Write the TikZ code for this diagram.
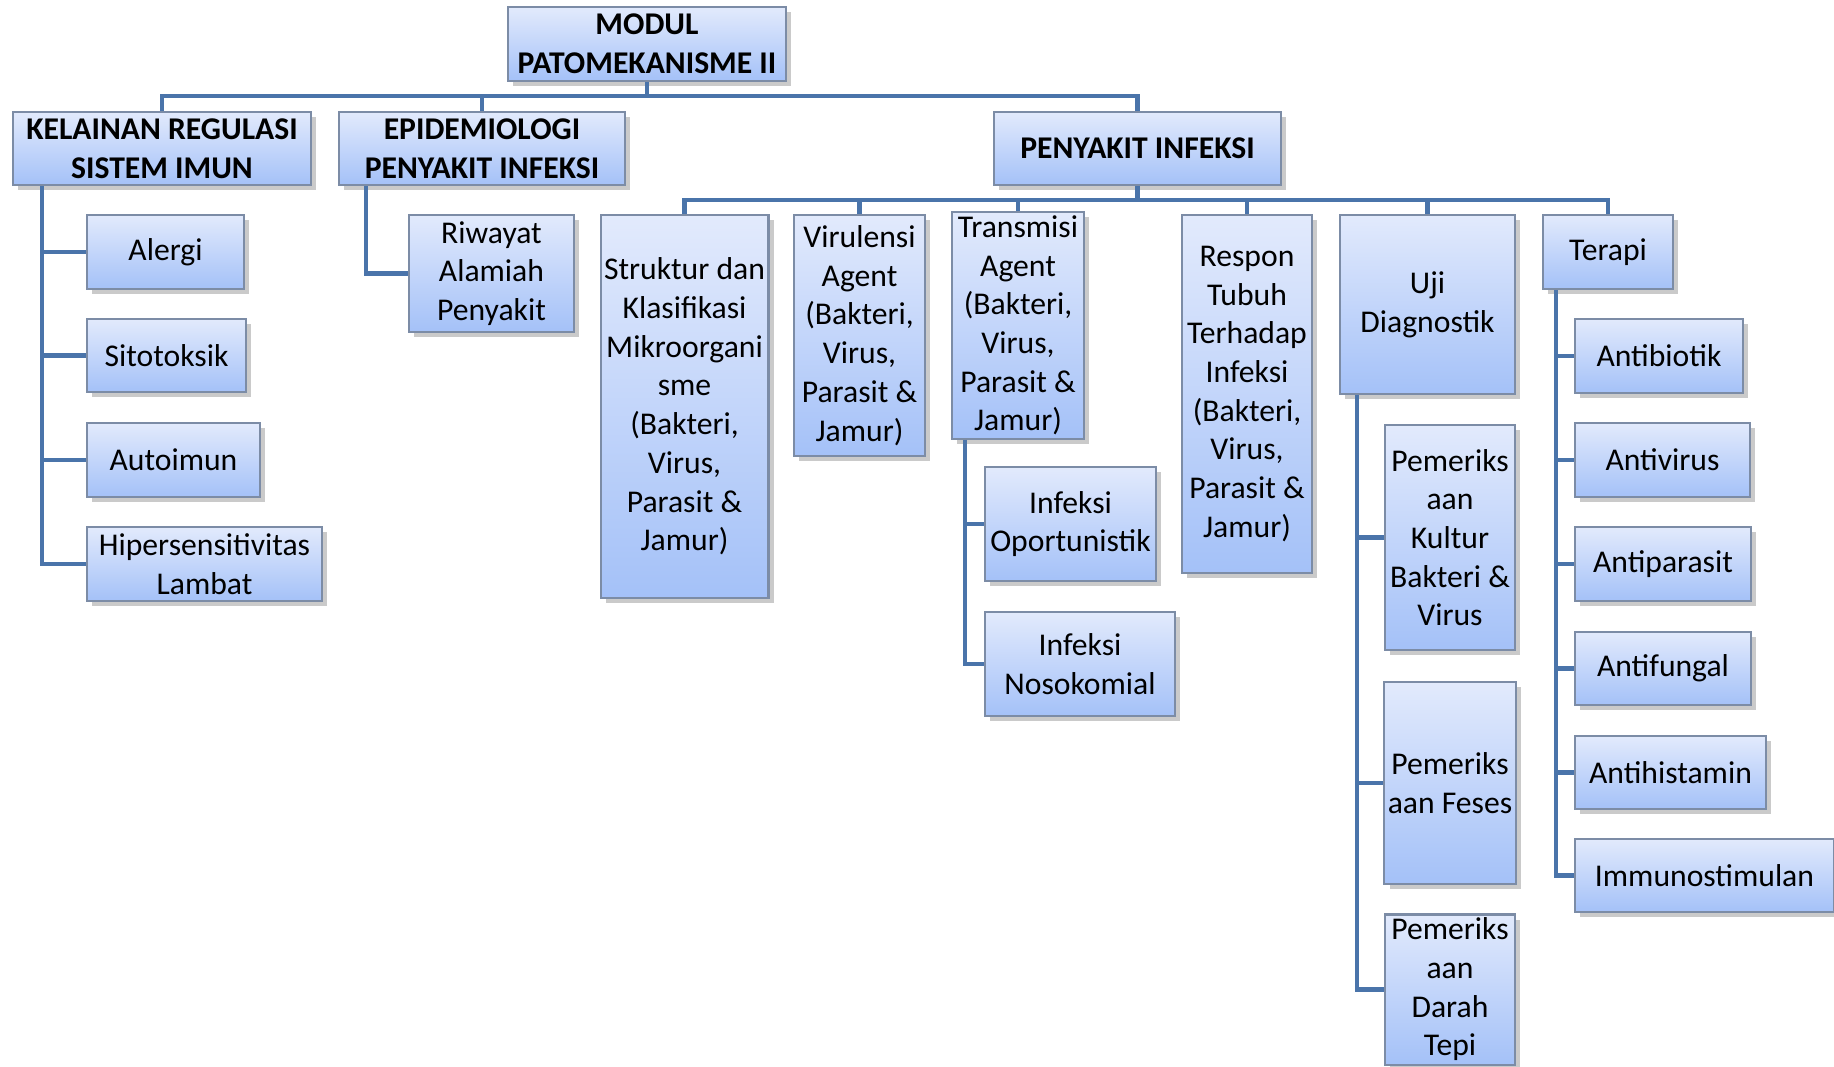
\documentclass[tikz,border=0pt]{standalone}
\usepackage{fontspec}
\setmainfont{Carlito}
\usetikzlibrary{shadows}
\definecolor{linkblue}{HTML}{4A74AA}
\definecolor{boxtop}{HTML}{E2EAFC}
\definecolor{boxbot}{HTML}{A4C1F8}
\definecolor{boxline}{HTML}{7C8CA6}
\begin{document}
\begin{tikzpicture}[x=0.01cm, y=-0.01cm,
    box/.style={draw=boxline, line width=0.6pt, top color=boxtop, bottom color=boxbot,
      align=center, inner sep=1pt, font=\fontsize{9}{11}\selectfont,
      drop shadow={shadow xshift=1.5pt, shadow yshift=-1.5pt, opacity=0.35, fill=black!60}},
    head/.style={box, font=\fontsize{9}{11}\selectfont\bfseries},
    link/.style={draw=linkblue, line width=1.3pt}]
      \useasboundingbox (0,0) rectangle (1834,1066);

      \node[head, minimum width=2.78cm, minimum height=0.74cm] (modul) at (647,44) {MODUL\\PATOMEKANISME II};
      \node[head, minimum width=2.98cm, minimum height=0.73cm] (kelainan) at (162,148.5) {KELAINAN REGULASI\\SISTEM IMUN};
      \node[head, minimum width=2.86cm, minimum height=0.73cm] (epid) at (482,148.5) {EPIDEMIOLOGI\\PENYAKIT INFEKSI};
      \node[head, minimum width=2.87cm, minimum height=0.73cm] (infeksi) at (1137.5,148.5) {PENYAKIT INFEKSI};

      \node[box, minimum width=1.57cm, minimum height=0.74cm] (alergi) at (165.5,252) {Alergi};
      \node[box, minimum width=1.59cm, minimum height=0.73cm] (sitotoksik) at (166.5,355.5) {Sitotoksik};
      \node[box, minimum width=1.73cm, minimum height=0.74cm] (autoimun) at (173.5,460) {Autoimun};
      \node[box, minimum width=2.35cm, minimum height=0.74cm] (hiper) at (204.5,564) {Hipersensitivitas\\Lambat};

      \node[box, minimum width=1.65cm, minimum height=1.17cm] (riwayat) at (491.5,273.5) {Riwayat\\Alamiah\\Penyakit};

      \node[box, minimum width=1.65cm, minimum height=3.83cm] (struktur) at (684.5,406.5) {Struktur dan\\Klasifikasi\\Mikroorgani\\sme\\(Bakteri,\\Virus,\\Parasit \&\\Jamur)};
      \node[box, minimum width=1.31cm, minimum height=2.41cm] (virulensi) at (859.5,335.5) {Virulensi\\Agent\\(Bakteri,\\Virus,\\Parasit \&\\Jamur)};
      \node[box, minimum width=1.32cm, minimum height=2.21cm] (transmisi) at (1018,325.5) {Transmisi\\Agent\\(Bakteri,\\Virus,\\Parasit \&\\Jamur)};
      \node[box, minimum width=1.30cm, minimum height=3.58cm] (respon) at (1247,394) {Respon\\Tubuh\\Terhadap\\Infeksi\\(Bakteri,\\Virus,\\Parasit \&\\Jamur)};
      \node[box, minimum width=1.75cm, minimum height=1.79cm] (uji) at (1427.5,304.5) {Uji\\Diagnostik};
      \node[box, minimum width=1.30cm, minimum height=0.74cm] (terapi) at (1608,252) {Terapi};

      \node[box, minimum width=1.71cm, minimum height=1.14cm] (oportunis) at (1070.5,524) {Infeksi\\Oportunistik};
      \node[box, minimum width=1.90cm, minimum height=1.04cm] (nosokomial) at (1080,664) {Infeksi\\Nosokomial};

      \node[box, minimum width=1.30cm, minimum height=2.25cm] (kultur) at (1450,537.5) {Pemeriks\\aan\\Kultur\\Bakteri \&\\Virus};
      \node[box, minimum width=1.30cm, minimum height=2.02cm] (feses) at (1450,783) {Pemeriks\\aan Feses};
      \node[box, minimum width=1.30cm, minimum height=1.47cm] (darah) at (1450,989.5) {Pemeriks\\aan\\Darah\\Tepi};

      \node[box, minimum width=1.68cm, minimum height=0.74cm] (antibiotik) at (1659,356) {Antibiotik};
      \node[box, minimum width=1.75cm, minimum height=0.74cm] (antivirus) at (1662.5,460) {Antivirus};
      \node[box, minimum width=1.76cm, minimum height=0.74cm] (antiparasit) at (1663,564) {Antiparasit};
      \node[box, minimum width=1.76cm, minimum height=0.73cm] (antifungal) at (1663,668.5) {Antifungal};
      \node[box, minimum width=1.91cm, minimum height=0.73cm] (antihistamin) at (1670.5,772.5) {Antihistamin};
      \node[box, minimum width=2.59cm, minimum height=0.73cm] (immuno) at (1704.5,875.5) {Immunostimulan};

      \coordinate (bus1) at (647,96);
      \coordinate (bus2) at (1137.5,200);

      \draw[link] (modul.south) -- (bus1);
      \draw[link] (kelainan.north) |- (bus1) -| (infeksi.north);
      \draw[link] (epid.north) -- (epid.north |- bus1);

      \draw[link] (infeksi.south) -- (bus2);
      \draw[link] (struktur.north) |- (bus2) -| (terapi.north);
      \foreach \n in {virulensi, transmisi, respon, uji}
        \draw[link] (\n.north) -- (\n.north |- bus2);

      \foreach \n in {alergi, sitotoksik, autoimun, hiper}
        \draw[link] ([xshift=0.3cm]kelainan.south west) |- (\n.west);
      \draw[link] ([xshift=0.28cm]epid.south west) |- (riwayat.west);
      \foreach \n in {oportunis, nosokomial}
        \draw[link] ([xshift=0.14cm]transmisi.south west) |- (\n.west);
      \foreach \n in {kultur, feses, darah}
        \draw[link] ([xshift=0.18cm]uji.south west) |- (\n.west);
      \foreach \n in {antibiotik, antivirus, antiparasit, antifungal, antihistamin, immuno}
        \draw[link] ([xshift=0.14cm]terapi.south west) |- (\n.west);
    \end{tikzpicture}
\end{document}
